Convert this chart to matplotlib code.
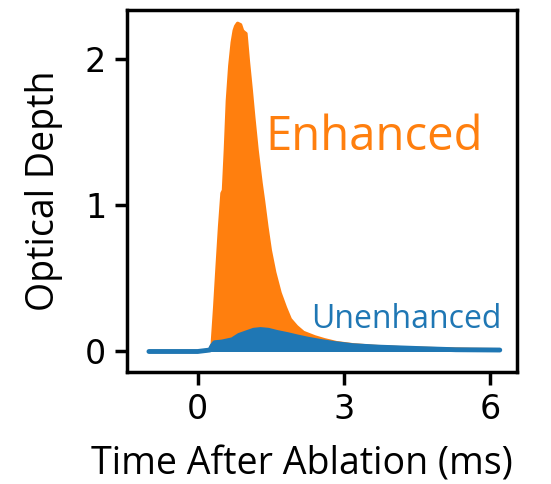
import matplotlib
matplotlib.use("Agg")
import matplotlib.pyplot as plt

# time (ms) and optical depth
t_enh = [-1.0, 0.0, 0.25, 0.30, 0.35, 0.40, 0.45, 0.50, 0.53, 0.57, 0.61, 0.66,
         0.71, 0.75, 0.78, 0.82, 0.88, 0.92, 0.95, 0.99, 1.04, 1.10, 1.15,
         1.22, 1.30, 1.35, 1.42, 1.49, 1.58, 1.69, 1.80, 1.90, 2.03, 2.17,
         2.40, 2.60, 2.85, 3.20, 3.60, 4.20, 5.00, 5.60, 6.20]
od_enh = [0.00, 0.00, 0.01, 0.05, 0.30, 0.58, 0.85, 1.08, 1.10, 1.38, 1.71,
          1.95, 2.11, 2.19, 2.22, 2.24, 2.23, 2.19, 2.18, 2.17, 1.98, 1.78,
          1.60, 1.37, 1.15, 1.03, 0.85, 0.69, 0.54, 0.40, 0.30, 0.22, 0.17,
          0.13, 0.10, 0.08, 0.06, 0.045, 0.035, 0.025, 0.018, 0.014, 0.012]

t_un = [-1.0, 0.0, 0.25, 0.30, 0.35, 0.50, 0.71, 0.85, 1.02, 1.15, 1.29,
        1.45, 1.63, 1.85, 2.04, 2.25, 2.50, 2.80, 3.18, 3.70, 4.55, 5.30,
        6.20]
od_un = [0.00, 0.00, 0.01, 0.04, 0.06, 0.065, 0.08, 0.11, 0.13, 0.145, 0.15,
         0.145, 0.13, 0.115, 0.10, 0.085, 0.07, 0.055, 0.04, 0.03, 0.02,
         0.012, 0.01]

ORANGE = "#ff7f0e"
BLUE = "#1f77b4"
LABEL_FONT = ["Open Sans", "DejaVu Sans"]

fig = plt.figure(figsize=(5.51, 4.84), dpi=100)
ax = fig.add_axes([0.2305, 0.2314, 0.7075, 0.7476])

ax.fill_between(t_enh, 0, od_enh, color=ORANGE, lw=0)
ax.plot(t_enh, od_enh, color=ORANGE, lw=2.5, solid_capstyle="round")
ax.fill_between(t_un, 0, od_un, color=BLUE, lw=0)
ax.plot(t_un, od_un, color=BLUE, lw=3.5, solid_capstyle="round")

ax.text(1.39, 1.46, "Enhanced", color=ORANGE, fontsize=34, family=LABEL_FONT,
        va="center", ha="left")
ax.text(2.33, 0.215, "Unenhanced", color=BLUE, fontsize=23, family=LABEL_FONT,
        va="center", ha="left")

ax.set_xlim(-1.45, 6.55)
ax.set_ylim(-0.14, 2.33)
ax.set_xticks([0, 3, 6])
ax.set_yticks([0, 1, 2])
ax.tick_params(labelsize=24, width=2.5, length=9, pad=6)
for s in ax.spines.values():
    s.set_linewidth(2.5)

ax.set_xlabel("Time After Ablation (ms)", fontsize=27, family=LABEL_FONT,
              labelpad=14)
ax.xaxis.label.set_x(0.449)
ax.set_ylabel("Optical Depth", fontsize=27, family=LABEL_FONT, labelpad=16)

fig.savefig("out.png", dpi=100)
